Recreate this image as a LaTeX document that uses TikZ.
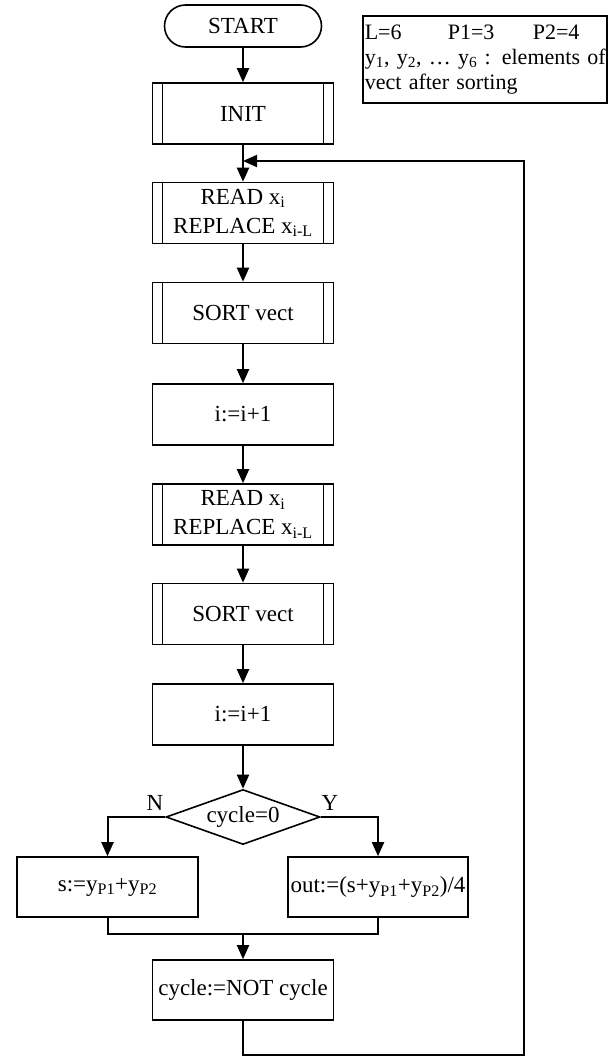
\documentclass[tikz,border=0pt]{standalone}
\usepackage{fontspec}
\setmainfont{Liberation Serif}
\usetikzlibrary{arrows.meta,shapes.geometric}

\begin{document}
\begin{tikzpicture}[x=1pt,y=-1pt,
  every node/.style={font=\fontsize{23}{29}\selectfont},
  box/.style={draw,line width=1.6pt,minimum width=181pt,minimum height=61pt,inner sep=2pt,align=center},
  term/.style={draw,line width=1.6pt,rounded corners=21pt,minimum width=157pt,minimum height=42pt},
  test/.style={draw,diamond,aspect=2.8,line width=1.6pt,minimum width=154pt,minimum height=55pt,inner sep=0pt},
  flow/.style={line width=2pt,-{Triangle[length=14pt,width=12pt]}},
  link/.style={line width=2pt}]
\useasboundingbox (0,0) rectangle (615,1057);

\node [term] (start) at (243,26) {START};
\node [box] (init) at (243,113.5) {INIT};
\node [box] (read1) at (243,213) {READ x\textsubscript{i}\\REPLACE x\textsubscript{i-L}};
\node [box] (sort1) at (243,313) {SORT vect};
\node [box] (inc1) at (243,414.5) {i:=i+1};
\node [box] (read2) at (243,514.5) {READ x\textsubscript{i}\\REPLACE x\textsubscript{i-L}};
\node [box] (sort2) at (243,614) {SORT vect};
\node [box] (inc2) at (243,714.5) {i:=i+1};
\node [test] (dec) at (243,817) {cycle=0};
\node (nlab) at (155,803) {N};
\node (ylab) at (330,803) {Y};
\node [box,minimum height=60pt] (s) at (107.5,887) {s:=y\textsubscript{P1}+y\textsubscript{P2}};
\node [box,minimum width=180pt,minimum height=60pt] (out) at (378,887) {out:=(s+y\textsubscript{P1}+y\textsubscript{P2})/4};
\node [box,minimum height=60pt] (cyc) at (243,990) {cycle:=NOT cycle};

\node [draw,line width=1.6pt,anchor=north west,text width=240pt,inner xsep=2pt,
  minimum height=87pt,align=left,font=\fontsize{22}{25}\selectfont] (info) at (362,15)
  {\makebox[83pt][l]{L=6}\makebox[85pt][l]{P1=3}P2=4\\
   \mbox{y\textsubscript{1}, y\textsubscript{2}, \dots\ y\textsubscript{6} : elements of}\\
   vect after sorting};

% subroutine sides
\foreach \n in {init,read1,sort1,read2,sort2} {
\draw [line width=1.2pt] ([xshift=11pt]\n.north west) -- ([xshift=11pt]\n.south west)
  ([xshift=-11pt]\n.north east) -- ([xshift=-11pt]\n.south east);}

\foreach \a/\b in {start/init,init/read1,read1/sort1,sort1/inc1,inc1/read2,read2/sort2,sort2/inc2,inc2/dec} {
\draw [flow] (\a) -- (\b);}

\draw [flow] (dec.west) -| (s.north);
\draw [flow] (dec.east) -| (out.north);

\coordinate (merge) at (243,934);
\draw [link] (s.south) |- (merge) (out.south) |- (merge);
\draw [flow] (merge) -- (cyc);

\coordinate (back) at (524,1055);
\coordinate (join) at (243,161);
\draw [flow] (cyc.south) |- (back) |- (join);
\end{tikzpicture}
\end{document}
